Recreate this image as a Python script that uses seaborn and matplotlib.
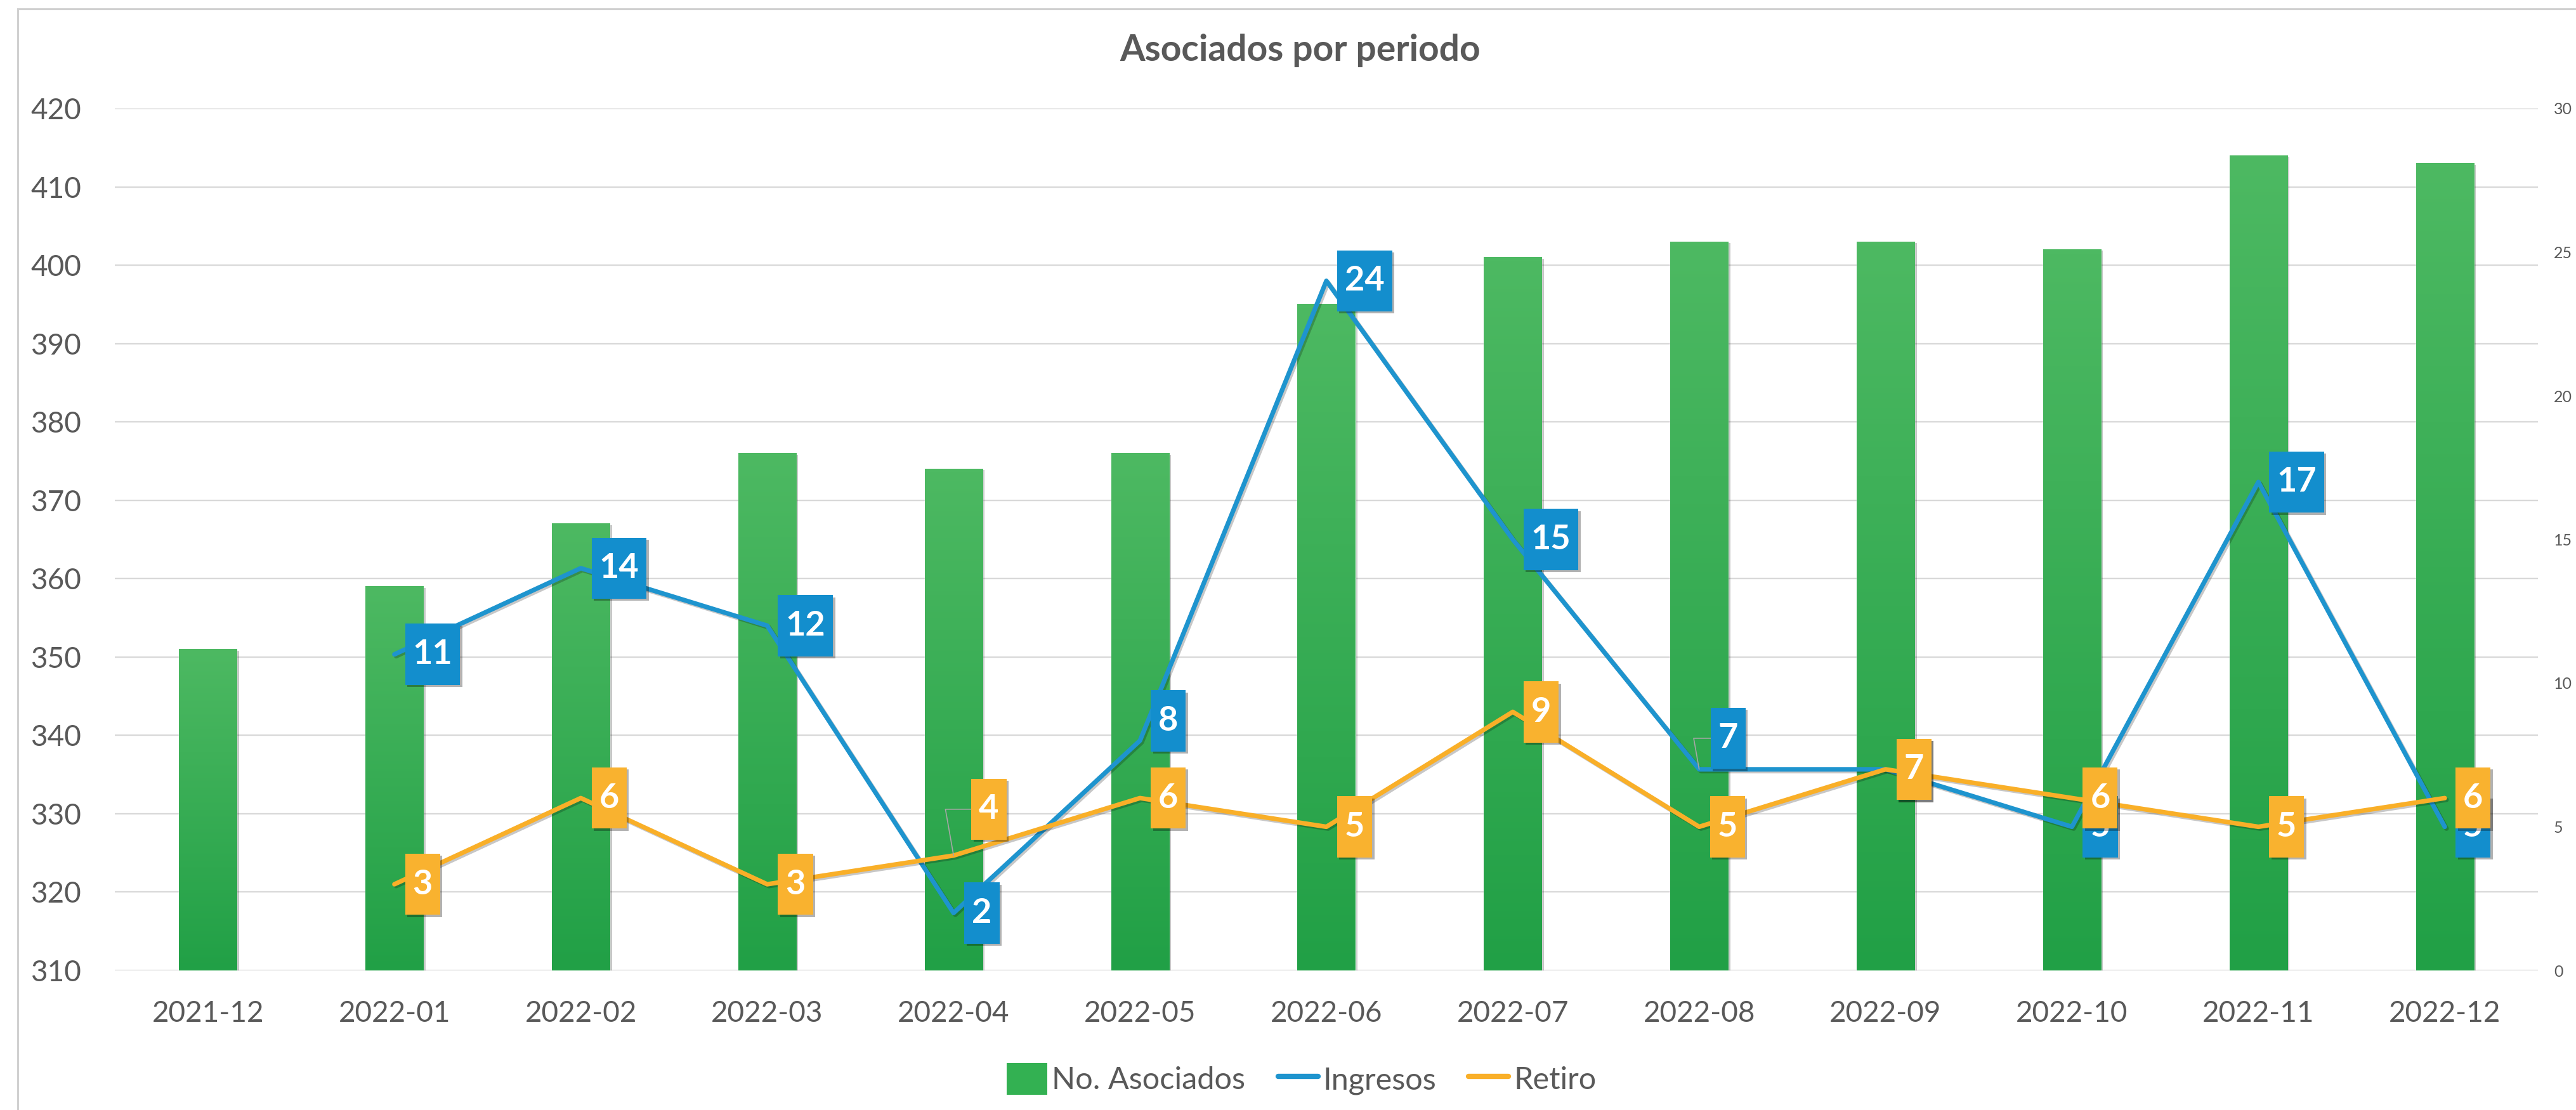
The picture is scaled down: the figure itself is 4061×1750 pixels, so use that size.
import numpy as np
import pandas as pd
import matplotlib
matplotlib.use("Agg")
import matplotlib.pyplot as plt
import matplotlib.patheffects as pe
from matplotlib.colors import LinearSegmentedColormap
from matplotlib.path import Path
from matplotlib.lines import Line2D
from matplotlib.patches import Patch, Rectangle
import seaborn as sns

# ---------------- data ----------------
periods = ["2021-12", "2022-01", "2022-02", "2022-03", "2022-04", "2022-05", "2022-06",
           "2022-07", "2022-08", "2022-09", "2022-10", "2022-11", "2022-12"]
asociados = [351, 359, 367, 376, 374, 376, 395, 401, 403, 403, 402, 414, 413]
line_periods = periods[1:]
ingresos = [11, 14, 12, 2, 8, 24, 15, 7, 7, 5, 17, 5]
retiro = [3, 6, 3, 4, 6, 5, 9, 5, 7, 6, 5, 6]
left_ticks = list(range(310, 421, 10))
right_ticks = list(range(0, 31, 5))
title = "Asociados por periodo"
series_names = ["No. Asociados", "Ingresos", "Retiro"]

# ---------------- style ----------------
W, H, DPI = 4061, 1750, 100
TXT = "#595959"
GRID = "#D9D9D9"
GREEN_TOP, GREEN_BOT = "#4DB962", "#21A046"
BLUE = "#1E94CE"
BLUE_BOX = "#138ECD"
ORANGE = "#F9AF28"
ORANGE_BOX = "#F9B22F"

sns.set_style("white")
plt.rcParams["font.family"] = ["Lato", "DejaVu Sans"]

fig = plt.figure(figsize=(W / DPI, H / DPI), dpi=DPI)
fig.subplots_adjust(left=181 / W, right=4001 / W, bottom=1 - 1530 / H, top=1 - 171 / H)
ax = fig.add_subplot(111)

# bars
sns.barplot(x=periods, y=asociados, ax=ax, color=GREEN_BOT, width=0.31,
            saturation=1, zorder=2)
ax.set_ylim(left_ticks[0], left_ticks[-1])
xlim = (-0.5, len(periods) - 0.5)
cmap = LinearSegmentedColormap.from_list("g", [GREEN_BOT, GREEN_TOP])
grad = np.linspace(0, 1, 256).reshape(-1, 1)
for p in ax.patches:
    x0, w = p.get_x(), p.get_width()
    y1 = p.get_y() + p.get_height()
    y0 = max(p.get_y(), left_ticks[0])
    p.set_path_effects([pe.withSimplePatchShadow(offset=(2.5, -1.5), shadow_rgbFace="k", alpha=0.22)])
    ax.imshow(grad, extent=[x0, x0 + w, y0, y1], aspect="auto", origin="lower",
              cmap=cmap, zorder=2.1, interpolation="bicubic")
ax.set_xlim(*xlim)
ax.set_ylim(left_ticks[0], left_ticks[-1])
ax.set_yticks(left_ticks)
ax.yaxis.grid(True, color=GRID, lw=1.7)
ax.xaxis.grid(False)
ax.set_axisbelow(True)
for s in ax.spines.values():
    s.set_visible(False)
ax.tick_params(axis="y", length=0, pad=38, labelsize=33, labelcolor=TXT)
ax.tick_params(axis="x", length=0, pad=34, labelsize=33, labelcolor=TXT)
ax.set_xlabel("")
ax.set_ylabel("")

# lines on secondary axis
ax2 = ax.twinx()
pos = {p: i for i, p in enumerate(periods)}
line_x = [pos[p] for p in line_periods]
df = pd.DataFrame({"x": line_x, "Ingresos": ingresos, "Retiro": retiro})
sns.lineplot(data=df, x="x", y="Ingresos", ax=ax2, color=BLUE, linewidth=5.2, sort=False, zorder=3)
sns.lineplot(data=df, x="x", y="Retiro", ax=ax2, color=ORANGE, linewidth=5.2, sort=False, zorder=3.5)
for ln in ax2.lines:
    ln.set_solid_joinstyle("round")
    ln.set_path_effects([pe.SimpleLineShadow(offset=(2, -2), alpha=0.22, shadow_color="k"), pe.Normal()])
ax2.set_ylim(right_ticks[0], right_ticks[-1])
ax2.set_yticks(right_ticks)
ax2.set_xlim(*xlim)
ax2.grid(False)
for s in ax2.spines.values():
    s.set_visible(False)
ax2.tick_params(axis="y", length=0, pad=18, labelsize=18, labelcolor=TXT)
ax2.set_ylabel("")
ax2.set_xlabel("")


def label_box(x0, y0, width, height, mutation_size):
    padx = 0.22 * mutation_size
    h = 1.78 * mutation_size
    cy = y0 + height / 2
    verts = [(x0 - padx, cy - h / 2), (x0 + width + padx, cy - h / 2),
             (x0 + width + padx, cy + h / 2), (x0 - padx, cy + h / 2),
             (x0 - padx, cy - h / 2)]
    return Path(verts, closed=True)


LABEL_FS = 39
PADX_PX = 0.22 * LABEL_FS * DPI / 72
# per-label shifts (pixels: box left from point, box centre above point)
shifts = {("Ingresos", "2022-05"): (17, 31, False),
          ("Ingresos", "2022-08"): (18, 49, True),
          ("Retiro", "2022-04"): (28, 73, True)}

for name, vals, fc, z in [("Ingresos", ingresos, BLUE_BOX, 6), ("Retiro", retiro, ORANGE_BOX, 7)]:
    for per, v in zip(line_periods, vals):
        dx, dy, leader = shifts.get((name, per), (17, 0, False))
        kw = {}
        if leader:
            kw["arrowprops"] = dict(arrowstyle="-", color="#A6A6A6", lw=1.2, shrinkA=0, shrinkB=0,
                                    relpos=(0, 0.5), connectionstyle="angle,angleA=180,angleB=100,rad=0")
        t = ax2.annotate(str(v), xy=(pos[per], v),
                         xytext=((dx + PADX_PX) * 72 / DPI, dy * 72 / DPI),
                         textcoords="offset points", ha="left", va="center",
                         fontsize=LABEL_FS, fontweight="bold", color="white",
                         bbox=dict(boxstyle=label_box, fc=fc, ec="none"), zorder=z, **kw)
        t.get_bbox_patch().set_path_effects(
            [pe.withSimplePatchShadow(offset=(2.5, -2.5), shadow_rgbFace="k", alpha=0.3)])

# title
fig.text(2050 / W, 1 - 80 / H, title, ha="center", va="center", fontsize=41,
         fontweight="bold", color=TXT)

# legend
handles = [Patch(facecolor="#33B152", edgecolor="none"),
           Line2D([], [], color=BLUE, lw=6, solid_capstyle="round"),
           Line2D([], [], color=ORANGE, lw=6, solid_capstyle="round")]
fig.legend(handles, series_names, loc="center", bbox_to_anchor=(2052 / W, 1 - 1701 / H),
           ncol=3, frameon=False, fontsize=35, handlelength=1.3, handleheight=1.2,
           handletextpad=0.16, columnspacing=1.05, labelcolor=TXT)

# chart-area border
fig.add_artist(Rectangle((28 / W, -0.1), 2, 1.1 - 14 / H, transform=fig.transFigure,
                         fill=False, ec="#D0D0D0", lw=2.2))

fig.savefig("out.png", dpi=DPI, facecolor="white")
